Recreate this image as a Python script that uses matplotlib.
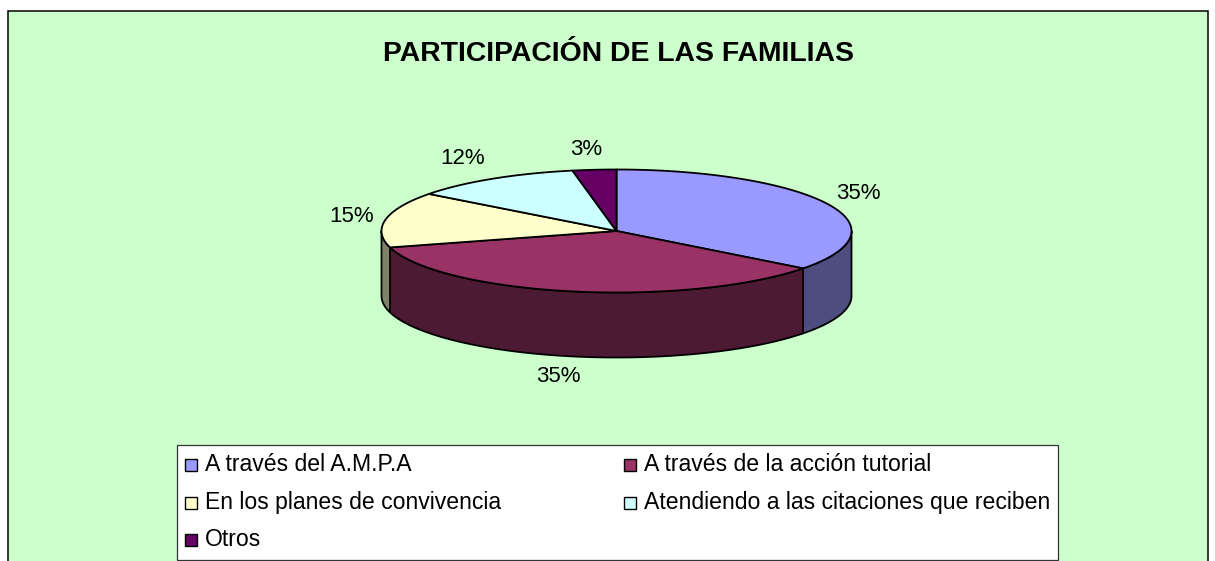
import numpy as np
import matplotlib
matplotlib.use("Agg")
from matplotlib import pyplot as plt
from matplotlib.patches import Polygon, Rectangle

plt.rcParams['font.family'] = ['Liberation Sans', 'DejaVu Sans']

titulo = "PARTICIPACIÓN DE LAS FAMILIAS"
categorias = ["A través del A.M.P.A", "A través de la acción tutorial",
              "En los planes de convivencia", "Atendiendo a las citaciones que reciben",
              "Otros"]
valores = [35.4, 35.3, 14.6, 11.7, 3.0]
colores = ["#9999FF", "#993366", "#FFFFCC", "#CCFFFF", "#660066"]
lados = ["#4D4D80", "#4D1A33", "#808066", "#668080", "#330033"]

# layout in pixels of the picture
cx, cy, rx, ry, alto = 616.5, 231, 235, 61.5, 65
pos_etiquetas = [(858, 193), (558, 376), (352, 216), (463, 158), (586, 149)]
pos_leyenda = [(185, 471), (624, 471), (185, 509), (624, 509), (185, 546)]

fig = plt.figure(figsize=(12.15, 5.61), dpi=100)
ax = fig.add_axes([0, 0, 1, 1])
ax.set_xlim(0, 1215)
ax.set_ylim(561, 0)
ax.axis("off")

# fondo del grafico
ax.add_patch(Rectangle((7.5, 10.5), 1200.5, 560, fc="#CCFFCC", ec="black", lw=1.1))
ax.text(618.5, 54, titulo, ha="center", va="center", fontsize=20.4, fontweight="bold")


def borde(a, b):
    # angulos en grados, en sentido horario desde arriba
    t = np.radians(np.linspace(a, b, 120))
    return cx + rx * np.sin(t), cy - ry * np.cos(t)


# limites de cada sector
limites = np.concatenate([[0], np.cumsum(valores)]) / sum(valores) * 360

# paredes (solo la mitad delantera se ve)
for i in range(len(valores)):
    a = max(limites[i], 90)
    b = min(limites[i + 1], 270)
    if a >= b:
        continue
    x, y = borde(a, b)
    xs = np.concatenate([x, x[::-1]])
    ys = np.concatenate([y, y[::-1] + alto])
    ax.add_patch(Polygon(np.column_stack([xs, ys]), fc=lados[i], ec="black", lw=1.3, joinstyle="round"))

# cara superior
for i in range(len(valores)):
    x, y = borde(limites[i], limites[i + 1])
    xs = np.concatenate([[cx], x])
    ys = np.concatenate([[cy], y])
    ax.add_patch(Polygon(np.column_stack([xs, ys]), fc=colores[i], ec="black", lw=1.3, joinstyle="round"))

for v, (px, py) in zip(valores, pos_etiquetas):
    ax.text(px, py, f"{v:.0f}%", ha="center", va="center", fontsize=16)

# leyenda
ax.add_patch(Rectangle((176.5, 445), 881.5, 114.5, fc="white", ec="#333333", lw=0.9))
for nombre, color, (px, py) in zip(categorias, colores, pos_leyenda):
    ax.add_patch(Rectangle((px, py - 12), 12, 12, fc=color, ec="black", lw=1.0))
    ax.text(px + 20, py, nombre, ha="left", va="baseline", fontsize=16.6)

fig.savefig("out.png", dpi=100)
